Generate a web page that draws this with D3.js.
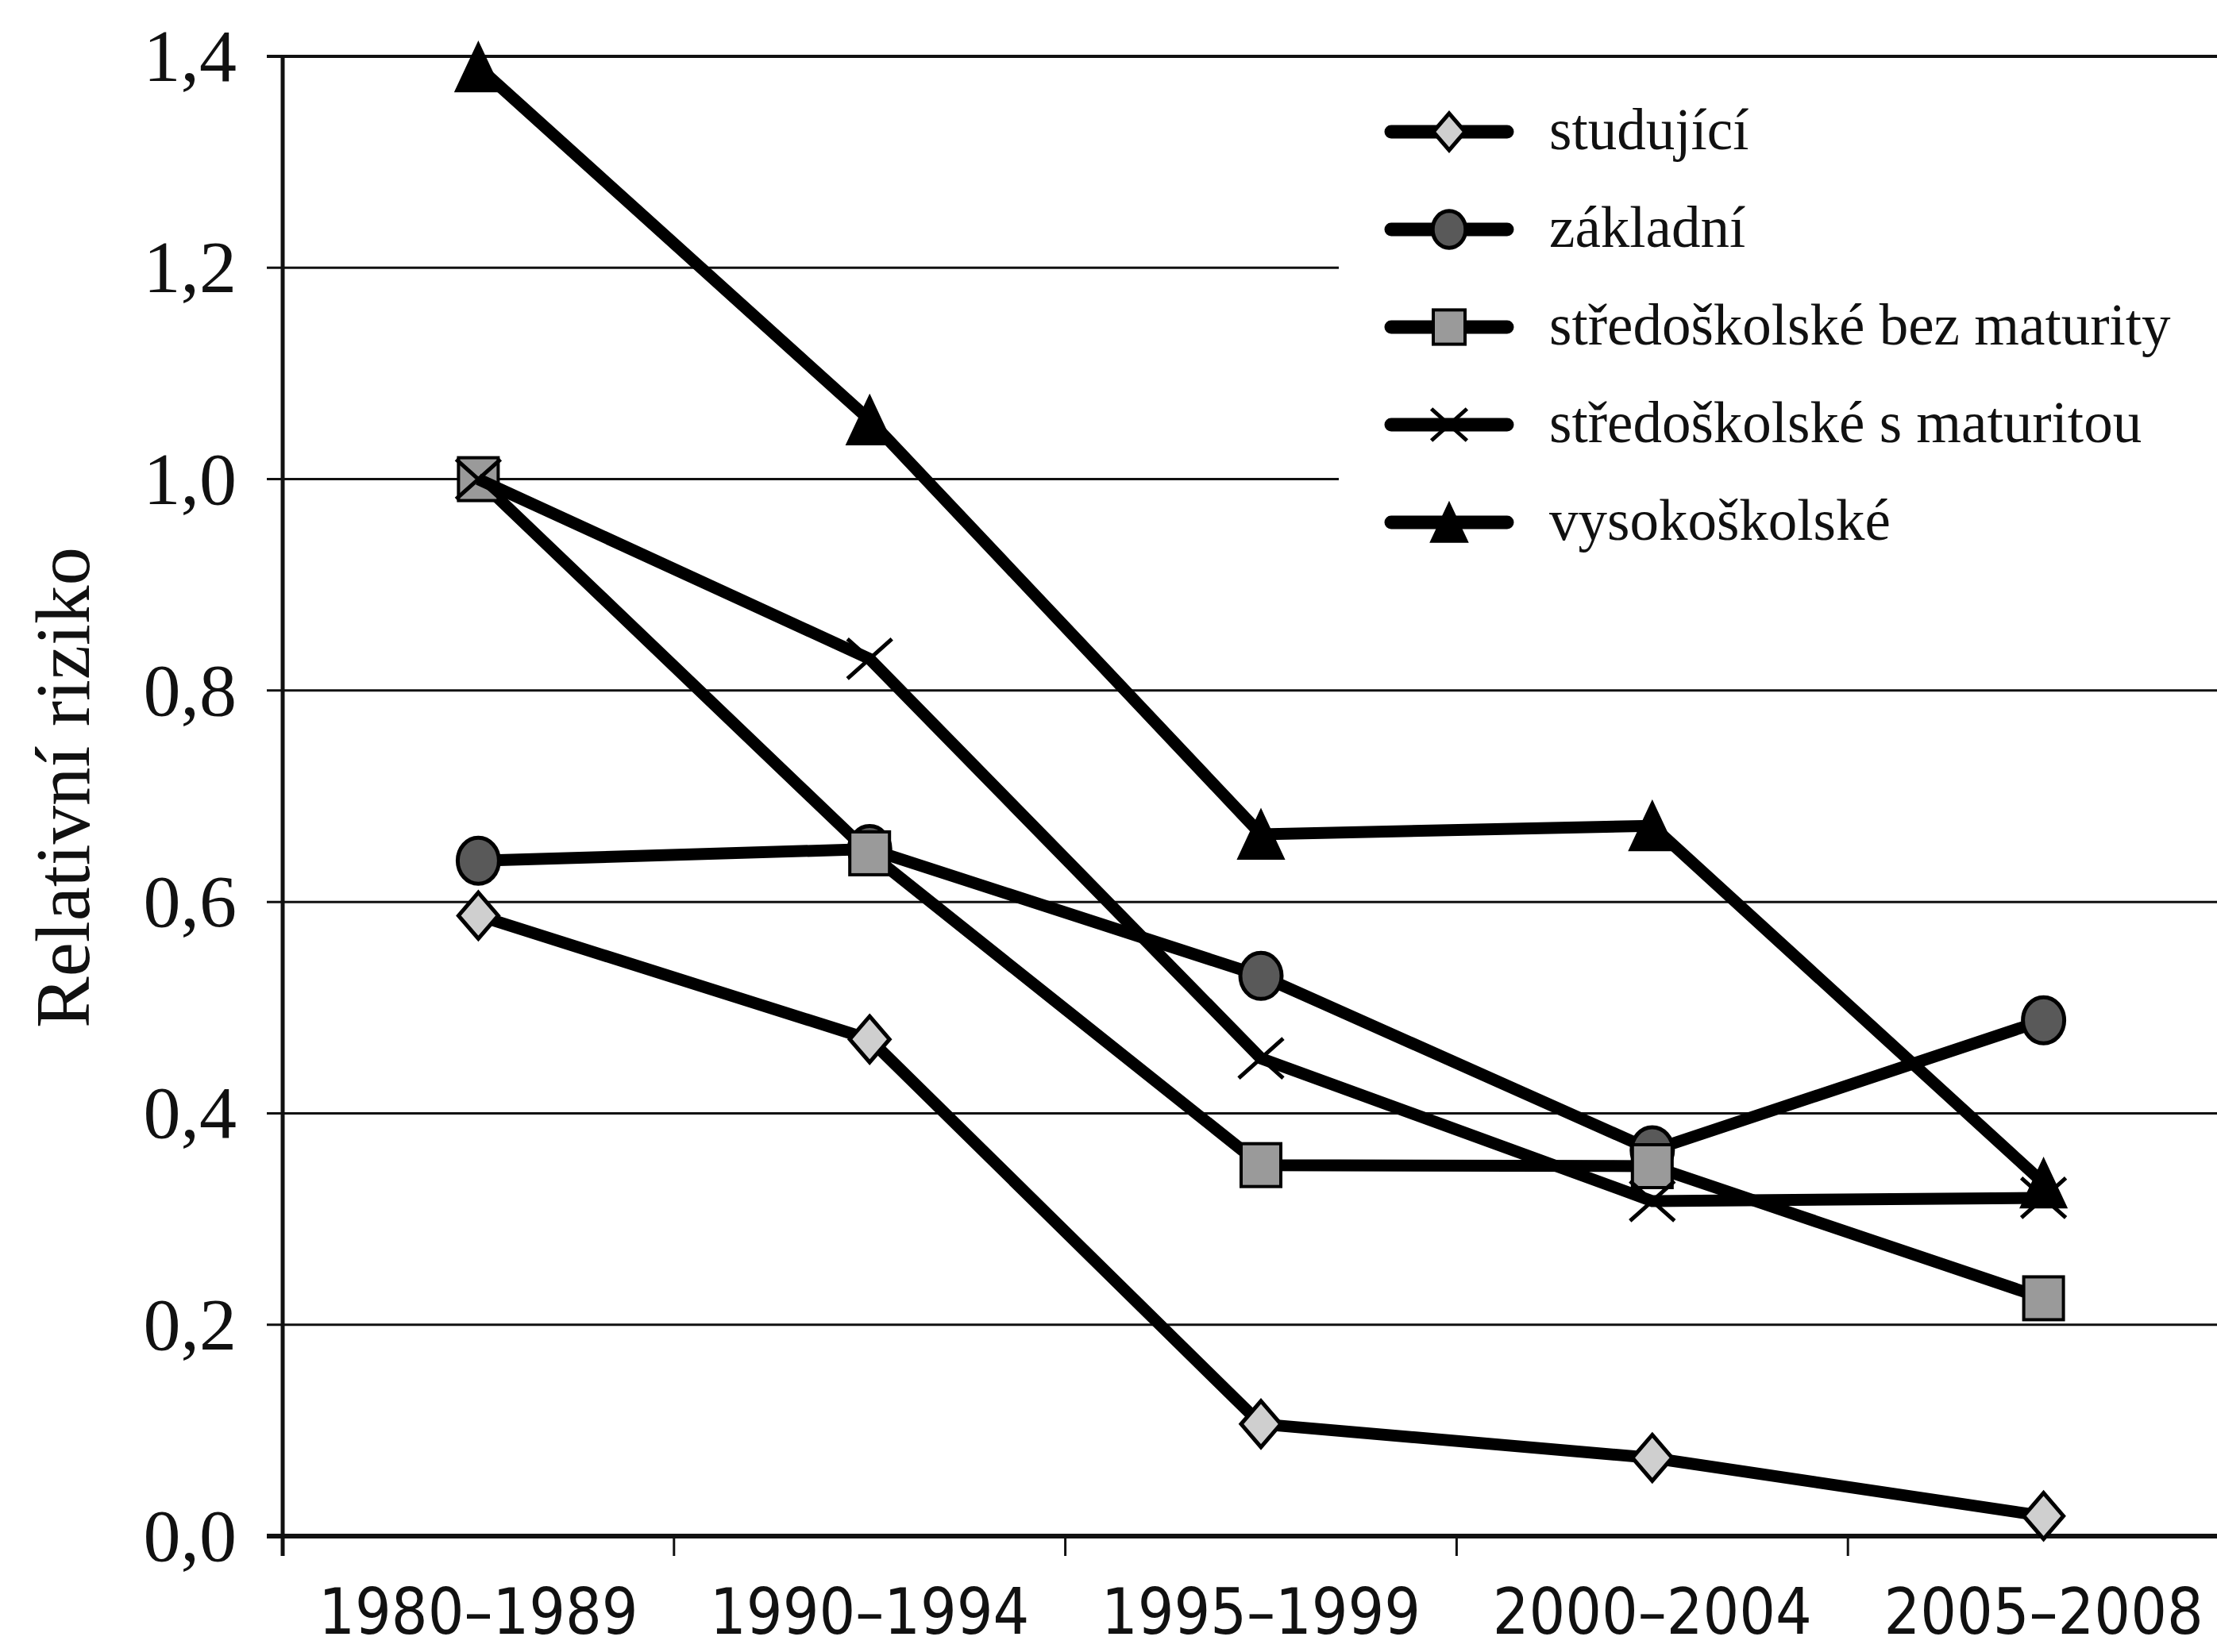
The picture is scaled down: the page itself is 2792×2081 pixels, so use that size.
<!DOCTYPE html>
<html>
<head>
<meta charset="utf-8">
<script src="https://cdn.jsdelivr.net/npm/d3@7"></script>
<style>
  html, body { margin: 0; padding: 0; background: #fff; }
  svg { display: block; }
</style>
</head>
<body>
<script>
// ---- data ----
const categories = ["1980–1989", "1990–1994", "1995–1999", "2000–2004", "2005–2008"];
const studujici  = [0.587, 0.470, 0.106, 0.074, 0.019];
const zakladni   = [0.639, 0.650, 0.530, 0.365, 0.488];
const sBezMat    = [1.000, 0.646, 0.351, 0.350, 0.225];
const sMat       = [1.000, 0.830, 0.452, 0.317, 0.320];
const vysoko     = [1.390, 1.056, 0.664, 0.672, 0.334];
const seriesNames = ["studující", "základní", "středoškolské bez maturity", "středoškolské s maturitou", "vysokoškolské"];
const yTicks = [0, 0.2, 0.4, 0.6, 0.8, 1.0, 1.2, 1.4];
const yTitle = "Relativní riziko";

const series = [
  { name: seriesNames[0], values: studujici, marker: "diamond",  fill: "#cfcfcf" },
  { name: seriesNames[1], values: zakladni,  marker: "circle",   fill: "#595959" },
  { name: seriesNames[2], values: sBezMat,   marker: "square",   fill: "#9a9a9a" },
  { name: seriesNames[3], values: sMat,      marker: "x",        fill: "none" },
  { name: seriesNames[4], values: vysoko,    marker: "triangle", fill: "#000" }
];

// ---- layout ----
const W = 2792, H = 2081;
const left = 356, bandW = 492.8;
const right = left + bandW * categories.length;
const yTop = 71, yBottom = 1935;

const svg = d3.select("body").append("svg")
  .attr("width", W).attr("height", H)
  .style("background", "#fff");

const x = d3.scaleBand().domain(categories).range([left, right]).padding(0);
const y = d3.scaleLinear().domain([0, 1.4]).range([yBottom, yTop]);

// gridlines (with small outward ticks on the left)
const grid = svg.append("g");
grid.selectAll("line").data(yTicks).join("line")
  .attr("x1", left - 20).attr("x2", W + 50)
  .attr("y1", d => y(d)).attr("y2", d => y(d))
  .attr("stroke", "#111")
  .attr("stroke-width", d => d === 0 ? 6 : (d === 1.4 ? 4 : 3));

// y tick labels
const fmt = d => d3.format(".1f")(d).replace(".", ",");
svg.append("g").selectAll("text").data(yTicks).join("text")
  .attr("x", 298).attr("y", d => y(d))
  .attr("dy", "0.33em")
  .attr("text-anchor", "end")
  .attr("font-family", "'Liberation Serif', 'DejaVu Serif', serif")
  .attr("font-size", 94)
  .attr("fill", "#111")
  .text(fmt);

// left axis line
svg.append("line")
  .attr("x1", left).attr("x2", left)
  .attr("y1", yTop).attr("y2", yBottom + 25)
  .attr("stroke", "#111").attr("stroke-width", 5);

// x axis ticks at band boundaries
const bounds = categories.map(c => x(c)).concat([right]);
svg.append("g").selectAll("line").data(bounds).join("line")
  .attr("x1", d => d).attr("x2", d => d)
  .attr("y1", yBottom).attr("y2", yBottom + 25)
  .attr("stroke", "#111").attr("stroke-width", 3);

// x tick labels
svg.append("g").selectAll("text").data(categories).join("text")
  .attr("x", d => x(d) + x.bandwidth() / 2)
  .attr("y", 2058)
  .attr("text-anchor", "middle")
  .attr("font-family", "'DejaVu Sans Condensed', 'DejaVu Sans', sans-serif")
  .attr("font-stretch", "condensed")
  .attr("font-size", 80)
  .attr("fill", "#111")
  .text(d => d);

// y axis title
svg.append("text")
  .attr("transform", `translate(112, 992) rotate(-90)`)
  .attr("text-anchor", "middle")
  .attr("font-family", "'Liberation Serif', 'DejaVu Serif', serif")
  .attr("font-size", 97)
  .attr("fill", "#111")
  .text(yTitle);

// legend background (hides gridlines)
svg.append("rect")
  .attr("x", 1686).attr("y", 95).attr("width", W - 1686).attr("height", 640)
  .attr("fill", "#fff");

// marker drawing
function drawMarker(g, type, fill, s) {
  if (type === "diamond") {
    const hw = 25 * s, hh = 29 * s;
    g.append("path").attr("d", `M0,${-hh} L${hw},0 L0,${hh} L${-hw},0 Z`)
      .attr("fill", fill).attr("stroke", "#000").attr("stroke-width", 5);
  } else if (type === "circle") {
    g.append("ellipse").attr("rx", 26 * s).attr("ry", 29 * s)
      .attr("fill", fill).attr("stroke", "#000").attr("stroke-width", 5);
  } else if (type === "square") {
    const hw = 25 * s, hh = 27 * s;
    g.append("rect").attr("x", -hw).attr("y", -hh).attr("width", 2 * hw).attr("height", 2 * hh)
      .attr("fill", fill).attr("stroke", "#000").attr("stroke-width", 4);
  } else if (type === "triangle") {
    const hw = 29 * s, hh = 31 * s;
    g.append("path").attr("d", `M0,${-hh} L${hw},${hh} L${-hw},${hh} Z`)
      .attr("fill", "#000").attr("stroke", "#000").attr("stroke-width", 2);
  } else if (type === "x") {
    const hw = 28 * s, hh = 25 * s;
    g.append("path").attr("d", `M${-hw},${-hh} L${hw},${hh} M${hw},${-hh} L${-hw},${hh}`)
      .attr("fill", "none").attr("stroke", "#000").attr("stroke-width", 5);
  }
}

// series
const line = d3.line()
  .x((d, i) => x(categories[i]) + x.bandwidth() / 2)
  .y(d => y(d));

series.forEach(s => {
  const g = svg.append("g");
  g.append("path").datum(s.values)
    .attr("d", line)
    .attr("fill", "none").attr("stroke", "#000")
    .attr("stroke-width", 15).attr("stroke-linejoin", "miter");
  s.values.forEach((v, i) => {
    const m = g.append("g").attr("transform",
      `translate(${x(categories[i]) + x.bandwidth() / 2},${y(v)})`);
    drawMarker(m, s.marker, s.fill, 1);
  });
});

// legend
const legY0 = 166, legStep = 123;
const leg = svg.append("g");
series.forEach((s, i) => {
  const gy = legY0 + i * legStep;
  const g = leg.append("g").attr("transform", `translate(0,${gy})`);
  g.append("line").attr("x1", 1752).attr("x2", 1898).attr("y1", 0).attr("y2", 0)
    .attr("stroke", "#000").attr("stroke-width", 17).attr("stroke-linecap", "round");
  const m = g.append("g").attr("transform", "translate(1825,0)");
  drawMarker(m, s.marker, s.fill, 0.8);
  g.append("text").attr("x", 1951).attr("y", 0).attr("dy", "0.3em")
    .attr("font-family", "'Liberation Serif', 'DejaVu Serif', serif")
    .attr("font-size", 73)
    .attr("fill", "#111")
    .text(s.name);
});
</script>
</body>
</html>
